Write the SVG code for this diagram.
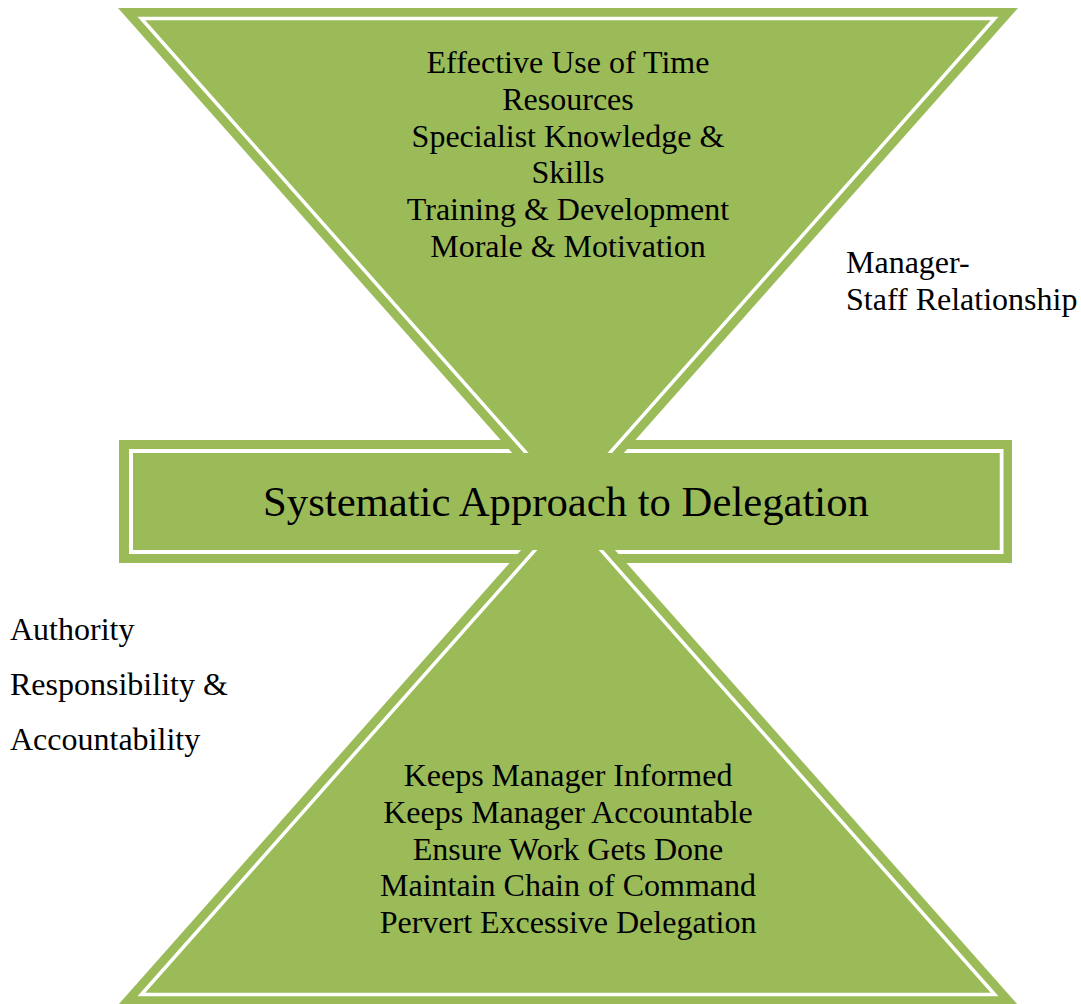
<svg xmlns="http://www.w3.org/2000/svg" width="1081" height="1004" viewBox="0 0 1081 1004">
  <style>
    .band { fill: #9BBB59; }
    .rule { fill: #9BBB59; stroke: #FFFFFF; stroke-width: 3.5; stroke-linejoin: miter; }
    .fill { fill: #9BBB59; }
    text { font-family: "Liberation Serif", "Times New Roman", serif; fill: #000000; }
    .body { font-size: 32px; }
    .mid { text-anchor: middle; }
    .title { font-size: 42.7px; text-anchor: middle; }
  </style>

  <rect width="1081" height="1004" fill="#FFFFFF"/>

  <!-- central bar: outer band and inner rule (interior filled later, above the triangles) -->
  <g id="bar-frame">
    <rect class="band" x="119" y="440" width="893" height="123"/>
    <rect x="131" y="451" width="870.5" height="101" fill="none" stroke="#FFFFFF" stroke-width="4"/>
  </g>

  <!-- upper inverted triangle -->
  <g id="top-triangle">
    <polygon class="band" points="118,8 1018,8 568,516"/>
    <polygon class="rule" points="141.3,18.5 994.7,18.5 568,500.2"/>
    <text class="body mid" x="568" y="73">Effective Use of Time</text>
    <text class="body mid" x="568" y="109.8">Resources</text>
    <text class="body mid" x="568" y="146.6">Specialist Knowledge &amp;</text>
    <text class="body mid" x="568" y="183.4">Skills</text>
    <text class="body mid" x="568" y="220.2">Training &amp; Development</text>
    <text class="body mid" x="568" y="257">Morale &amp; Motivation</text>
  </g>

  <!-- lower triangle -->
  <g id="bottom-triangle">
    <polygon class="band" points="118,1005 1018,1005 568,497"/>
    <polygon class="rule" points="141.3,994.5 994.7,994.5 568,512.8"/>
    <text class="body mid" x="568" y="786">Keeps Manager Informed</text>
    <text class="body mid" x="568" y="822.8">Keeps Manager Accountable</text>
    <text class="body mid" x="568" y="859.6">Ensure Work Gets Done</text>
    <text class="body mid" x="568" y="896.4">Maintain Chain of Command</text>
    <text class="body mid" x="568" y="933.2">Pervert Excessive Delegation</text>
  </g>

  <!-- central bar interior and title -->
  <g id="bar">
    <rect class="fill" x="133" y="453" width="866.5" height="97"/>
    <text class="title" x="566" y="516">Systematic Approach to Delegation</text>
  </g>

  <!-- side labels -->
  <g id="label-right">
    <text class="body" x="846" y="273">Manager-</text>
    <text class="body" x="846" y="310">Staff Relationship</text>
  </g>
  <g id="label-left">
    <text class="body" x="10" y="640">Authority</text>
    <text class="body" x="10" y="695">Responsibility &amp;</text>
    <text class="body" x="10" y="750">Accountability</text>
  </g>
</svg>
